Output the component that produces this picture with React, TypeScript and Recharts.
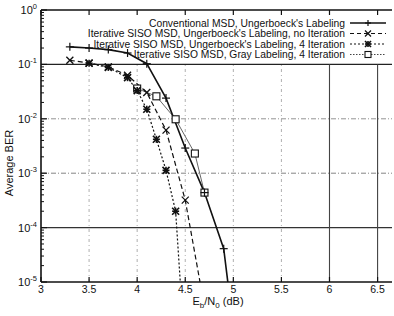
import { LineChart, Line, XAxis, YAxis, ReferenceLine } from 'recharts';

// Conventional MSD, Ungerboeck's labeling
const convX = [3.3, 3.5, 3.7, 3.9, 4.1, 4.3, 4.5, 4.7, 4.9, 5.0];
const convBer = [0.21, 0.2, 0.187, 0.162, 0.103, 0.024, 0.0029, 0.00044, 0.000041, 0.0000015];

// Iterative SISO MSD, Ungerboeck's labeling, no iteration
const noIterX = [3.3, 3.5, 3.7, 3.9, 4.1, 4.3, 4.5, 4.7];
const noIterBer = [0.119, 0.106, 0.09, 0.063, 0.0304, 0.0062, 0.00032, 0.0000035];

// Iterative SISO MSD, Ungerboeck's labeling, 4 iterations
const ung4X = [3.5, 3.7, 3.9, 4.0, 4.1, 4.2, 4.3, 4.4, 4.5];
const ung4Ber = [0.105, 0.088, 0.057, 0.033, 0.015, 0.0042, 0.00113, 0.0002, 0.0000004];

// Iterative SISO MSD, Gray labeling, 4 iterations
const grayX = [4.0, 4.2, 4.4, 4.6, 4.7];
const grayBer = [0.036, 0.0259, 0.0098, 0.0023, 0.00044];

const xTicks = [3, 3.5, 4, 4.5, 5, 5.5, 6, 6.5];
const yDecades = [1e-5, 1e-4, 1e-3, 1e-2, 1e-1, 1];
const yExponents = ['-5', '-4', '-3', '-2', '-1', '0'];

const legendNames = [
  "Conventional MSD, Ungerboeck's Labeling",
  "Iterative SISO MSD, Ungerboeck's Labeling, no Iteration",
  "Iterative SISO MSD, Ungerboeck's Labeling, 4 Iteration",
  'Iterative SISO MSD, Gray Labeling, 4 Iteration',
];

const zip = (xs: number[], ys: number[]) => xs.map((x, i) => ({ x, ber: ys[i] }));

const yMinor: number[] = [];
for (let d = 0; d < yDecades.length - 1; d++) {
  for (let m = 2; m <= 9; m++) yMinor.push(yDecades[d] * m);
}
const yTicks = [...yDecades, ...yMinor].sort((a, b) => a - b);

const FONT = '"Liberation Sans", Arial, sans-serif';
const INK = '#111';
const PLOT_TOP = 10;

const Plus = ({ cx, cy, s = 4 }: any) => (
  <g stroke={INK} strokeWidth={1.2}>
    <line x1={cx - s} y1={cy} x2={cx + s} y2={cy} />
    <line x1={cx} y1={cy - s} x2={cx} y2={cy + s} />
  </g>
);

const Cross = ({ cx, cy, s = 3.5 }: any) => (
  <g stroke={INK} strokeWidth={1.3}>
    <line x1={cx - s} y1={cy - s} x2={cx + s} y2={cy + s} />
    <line x1={cx - s} y1={cy + s} x2={cx + s} y2={cy - s} />
  </g>
);

const Star = ({ cx, cy, s = 3.5 }: any) => (
  <g stroke={INK} strokeWidth={1.6}>
    <line x1={cx - s} y1={cy - s} x2={cx + s} y2={cy + s} />
    <line x1={cx - s} y1={cy + s} x2={cx + s} y2={cy - s} />
    <line x1={cx - s} y1={cy} x2={cx + s} y2={cy} />
    <line x1={cx} y1={cy - s} x2={cx} y2={cy + s} />
  </g>
);

const Square = ({ cx, cy, s = 3.5 }: any) => (
  <rect x={cx - s} y={cy - s} width={2 * s} height={2 * s} fill="#fff" stroke={INK} strokeWidth={1.1} />
);

const XTick = ({ x, y, payload }: any) => (
  <g>
    <line x1={x} y1={y} x2={x} y2={y - 5} stroke={INK} strokeWidth={1.2} />
    <line x1={x} y1={PLOT_TOP} x2={x} y2={PLOT_TOP + 5} stroke={INK} strokeWidth={1.2} />
    <text x={x} y={y + 10.5} textAnchor="middle" fontSize={10.5} fontFamily={FONT} fill={INK}>
      {payload.value}
    </text>
  </g>
);

const YTick = ({ x, y, payload }: any) => {
  const idx = yDecades.findIndex((d) => Math.abs(d - payload.value) / d < 1e-6);
  if (idx < 0) {
    return <line x1={x} y1={y} x2={x + 3} y2={y} stroke={INK} strokeWidth={1} />;
  }
  return (
    <g>
      <line x1={x} y1={y} x2={x + 6} y2={y} stroke={INK} strokeWidth={1.2} />
      <text x={x - 4} y={y + 4} textAnchor="end" fontSize={11} fontFamily={FONT} fill={INK}>
        10
        <tspan fontSize={7.5} dy={-5}>
          {yExponents[idx]}
        </tspan>
      </text>
    </g>
  );
};

const legendStyles = [
  { dash: undefined, width: 1.4, color: INK, Marker: Plus },
  { dash: '4 3', width: 1.1, color: INK, Marker: Cross },
  { dash: '2 2', width: 1.1, color: INK, Marker: Star },
  { dash: '1.5 1.5', width: 1, color: '#444', Marker: Square },
];

export default function App() {
  return (
    <div style={{ position: 'absolute', left: 0, top: 0, width: 394, height: 316, background: '#fff' }}>
      <LineChart width={394} height={316} margin={{ top: PLOT_TOP, right: 2, left: 0, bottom: 0 }}>
        <XAxis
          type="number"
          dataKey="x"
          domain={[3, 6.65]}
          ticks={xTicks}
          allowDataOverflow
          height={34}
          tickSize={0}
          tickMargin={0}
          tickLine={false}
          tick={<XTick />}
          axisLine={{ stroke: INK, strokeWidth: 1.6 }}
        />
        <YAxis
          type="number"
          dataKey="ber"
          scale="log"
          domain={[1e-5, 1]}
          ticks={yTicks}
          allowDataOverflow
          width={41}
          tickSize={0}
          tickMargin={0}
          tickLine={false}
          tick={<YTick />}
          interval={0}
          axisLine={{ stroke: INK, strokeWidth: 1.6 }}
        />
        <ReferenceLine y={1} stroke={INK} strokeWidth={1.4} />
        <ReferenceLine y={0.1} stroke="#222" strokeWidth={1.1} />
        <ReferenceLine y={0.01} stroke="#888" strokeWidth={0.9} strokeDasharray="5 2 1 2" />
        <ReferenceLine y={0.001} stroke="#777" strokeWidth={0.9} strokeDasharray="5 2 1 2" />
        <ReferenceLine y={0.0001} stroke="#333" strokeWidth={1.1} />
        {xTicks.slice(1).map((t) => (
          <ReferenceLine
            key={t}
            segment={[
              { x: t, y: 1e-5 },
              { x: t, y: 0.1 },
            ]}
            stroke={t >= 6 ? '#444' : '#999'}
            strokeWidth={t >= 6 ? 1.1 : 0.8}
            strokeDasharray={t >= 6 ? undefined : '3 3 1 3'}
          />
        ))}
        <Line
          data={zip(grayX, grayBer)}
          dataKey="ber"
          stroke="#555"
          strokeWidth={0.9}
          isAnimationActive={false}
          dot={(p: any) => <Square key={`g${p.index}`} cx={p.cx} cy={p.cy} />}
        />
        <Line
          data={zip(ung4X, ung4Ber)}
          dataKey="ber"
          stroke={INK}
          strokeWidth={1.2}
          strokeDasharray="2 2"
          isAnimationActive={false}
          dot={(p: any) => <Star key={`s${p.index}`} cx={p.cx} cy={p.cy} />}
        />
        <Line
          data={zip(noIterX, noIterBer)}
          dataKey="ber"
          stroke={INK}
          strokeWidth={1.2}
          strokeDasharray="5 3"
          isAnimationActive={false}
          dot={(p: any) => <Cross key={`c${p.index}`} cx={p.cx} cy={p.cy} />}
        />
        <Line
          data={zip(convX, convBer)}
          dataKey="ber"
          stroke={INK}
          strokeWidth={1.6}
          isAnimationActive={false}
          dot={(p: any) => <Plus key={`p${p.index}`} cx={p.cx} cy={p.cy} />}
        />
      </LineChart>
      <svg
        width={394}
        height={316}
        style={{ position: 'absolute', left: 0, top: 0, pointerEvents: 'none' }}
      >
        {legendNames.map((name, i) => {
          const cy = 23 + i * 10.5;
          const st = legendStyles[i];
          const M = st.Marker;
          return (
            <g key={name}>
              <text x={345} y={cy + 3.5} textAnchor="end" fontSize={10.3} fontFamily={FONT} fill={INK}>
                {name}
              </text>
              <line
                x1={350}
                y1={cy}
                x2={386}
                y2={cy}
                stroke={st.color}
                strokeWidth={st.width}
                strokeDasharray={st.dash}
              />
              <M cx={368} cy={cy} s={3} />
            </g>
          );
        })}
        <text x={13} y={163} transform="rotate(-90 13 163)" textAnchor="middle" fontSize={11} fontFamily={FONT} fill={INK}>
          Average BER
        </text>
        <text x={218} y={305} textAnchor="middle" fontSize={11} fontFamily={FONT} fill={INK}>
          E<tspan fontSize={8} dy={3}>b</tspan>
          <tspan dy={-3}>/N</tspan>
          <tspan fontSize={8} dy={3}>0</tspan>
          <tspan dy={-3}> (dB)</tspan>
        </text>
      </svg>
    </div>
  );
}
